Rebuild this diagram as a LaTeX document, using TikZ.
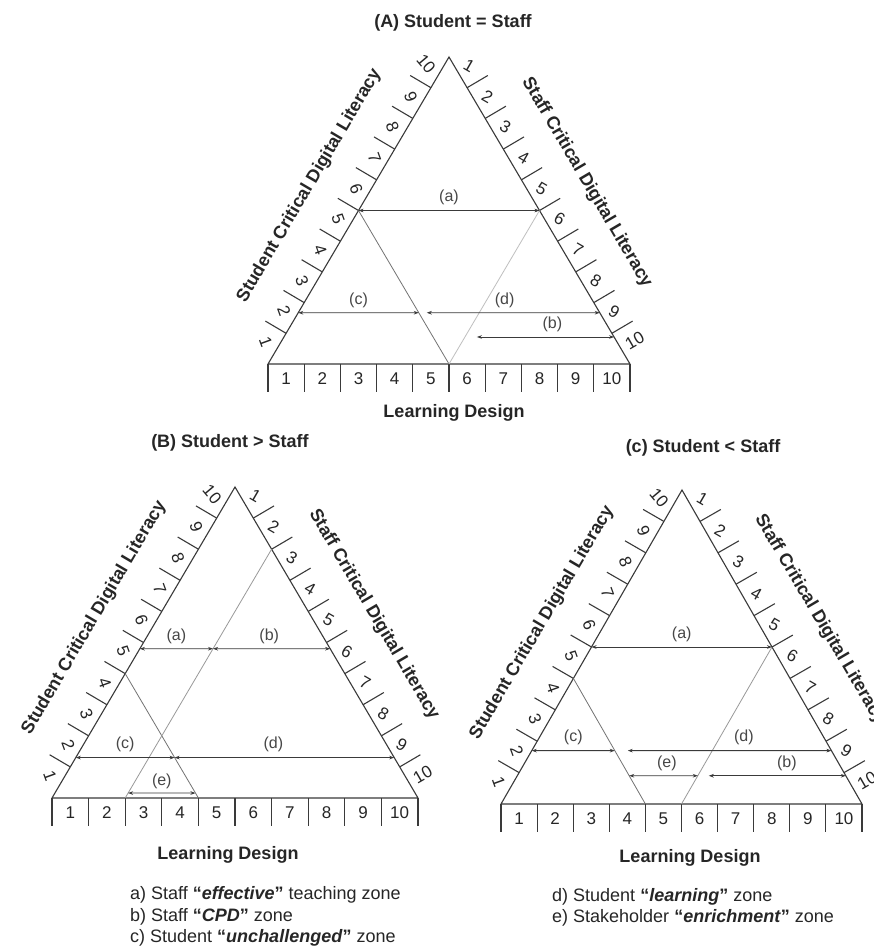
\documentclass[tikz,border=0pt]{standalone}
\usepackage{fontspec}
\setmainfont{Liberation Sans}
\usetikzlibrary{calc,arrows.meta}
\definecolor{ink}{HTML}{262626}
\definecolor{lineink}{HTML}{3A3A3A}
\newcommand{\setfs}[1]{\fontsize{#1}{#1}\selectfont}
\tikzset{
  side/.style={draw=lineink, line width=1.1pt, line join=miter},
  tick/.style={draw=lineink, line width=1.1pt},
  num/.style={inner sep=0pt, text=ink, font=\setfs{17pt}},
  sidelab/.style={inner sep=0pt, text=ink, font=\setfs{18pt}\bfseries},
  ttl/.style={inner sep=0pt, text=ink, font=\setfs{18pt}\bfseries},
  leg/.style={inner sep=0pt, text=ink, font=\setfs{18pt}},
  zarr/.style={draw=lineink, line width=0.8pt,
     {Stealth[length=5pt,width=3.6pt]}-{Stealth[length=5pt,width=3.6pt]}},
  zlab/.style={inner sep=1pt, text=ink!85, font=\setfs{16pt}},
  innerA/.style={draw=black!55, line width=0.8pt},
  innerB/.style={draw=black!25, line width=0.8pt},
}
\newcommand{\drawscaletri}[1]{%
  \draw[side] (#1L) -- (#1T) -- (#1R) -- cycle;
  \foreach \k in {1,...,9}{
    \pgfmathsetmacro{\fk}{\k/10}
    \coordinate (#1lt\k) at ($(#1L)!\fk!(#1T)$);
    \coordinate (#1lo\k) at ($(#1lt\k)!24pt!90:(#1T)$);
    \draw[tick] (#1lt\k) -- (#1lo\k);
    \coordinate (#1rt\k) at ($(#1T)!\fk!(#1R)$);
    \coordinate (#1ro\k) at ($(#1rt\k)!24pt!90:(#1R)$);
    \draw[tick] (#1rt\k) -- (#1ro\k);
  }
  \foreach \k in {0,...,10}{
    \pgfmathsetmacro{\fk}{\k/10}
    \coordinate (#1b\k) at ($(#1L)!\fk!(#1R)$);
    \coordinate (#1bo\k) at ($(#1b\k)+(0,28)$);
    \draw[tick] (#1b\k) -- (#1bo\k);
  }
  \foreach \k in {1,...,10}{
    \pgfmathsetmacro{\fr}{(\k-0.5)/10}
    \pgfmathsetmacro{\rotl}{ifthenelse(\k==10,-50,-70)}
    \pgfmathsetmacro{\rotr}{ifthenelse(\k==10,30,-30)}
    \pgfmathsetmacro{\off}{ifthenelse(\k==10,16,13)}
    \coordinate (#1lc\k) at ($(#1L)!\fr!(#1T)$);
    \node[num, rotate=\rotl] (#1ln\k) at ($(#1lc\k)!\off pt!90:(#1T)$) {\k};
    \coordinate (#1rc\k) at ($(#1T)!\fr!(#1R)$);
    \node[num, rotate=\rotr] (#1rn\k) at ($(#1rc\k)!\off pt!90:(#1R)$) {\k};
    \node[num] (#1bn\k) at ($(#1L)!\fr!(#1R)+(0,15)$) {\k};
  }
  \coordinate (#1lm) at ($(#1L)!0.49!(#1T)$);
  \node[sidelab, rotate=59.5] (#1slab) at ($(#1lm)!55pt!90:(#1T)$) {Student Critical Digital Literacy};
  \coordinate (#1rm) at ($(#1T)!0.5!(#1R)$);
  \node[sidelab, rotate=-59.5] (#1srlab) at ($(#1rm)!55pt!90:(#1R)$) {Staff Critical Digital Literacy};
}
\begin{document}
\begin{tikzpicture}[x=1pt,y=-1pt]
\useasboundingbox (0,0) rectangle (874,948);
\fill[white] (0,0) rectangle (874,948);

% triangle corners
\coordinate (AL) at (268,364); \coordinate (AR) at (630,364); \coordinate (AT) at (449,57);
\coordinate (BL) at (52,798);  \coordinate (BR) at (418,798); \coordinate (BT) at (235,487);
\coordinate (CL) at (501,804); \coordinate (CR) at (862,804); \coordinate (CT) at (682,490);

\drawscaletri{A}
\drawscaletri{B}
\drawscaletri{C}

% ---------- inner zone lines ----------
\draw[innerA] (Alt5) -- (Ab5);
\draw[innerB] (Art5) -- (Ab5);
\draw[innerA] (Blt4) -- (Bb4);
\draw[innerA, draw=black!40] (Brt2) -- (Bb2);
\draw[innerA] (Clt4) -- (Cb4);
\draw[innerA, draw=black!40] (Crt5) -- (Cb5);

% ---------- titles ----------
\node[ttl] (titleA) at (453,23) {(A) Student = Staff};
\node[ttl] (titleB) at (230,443) {(B) Student > Staff};
\node[ttl] (titleC) at (703,448) {(c) Student < Staff};
\node[ttl] (ldA) at (454,413) {Learning Design};
\node[ttl] (ldB) at (228,855) {Learning Design};
\node[ttl] (ldC) at (690,858) {Learning Design};

% ---------- arrows A ----------
\coordinate (Aa1) at (Alt5); \coordinate (Aa2) at (Art5);
\coordinate (Ac1) at ($(AL)!0.167!(AT)$);
\coordinate (Ac2) at ($(Ab5)!0.334!(Alt5)$);
\coordinate (Ad1) at ($(Ac2)+(8,0)$);
\coordinate (Ad2) at ($(AR)!0.167!(AT)$);
\coordinate (Ab1x) at ($(Ab5)!0.176!(Art5)+(12,0)$);
\coordinate (Ab2x) at ($(AR)!0.088!(AT)$);
\draw[zarr] (Aa1) -- (Aa2) node[zlab, midway, above=4pt] (Alab-a) {(a)};
\draw[zarr] (Ac1) -- (Ac2) node[zlab, midway, above=4pt] (Alab-c) {(c)};
\draw[zarr] (Ad1) -- (Ad2) node[zlab, pos=0.45, above=4pt] (Alab-d) {(d)};
\draw[zarr] (Ab1x) -- (Ab2x) node[zlab, pos=0.55, above=4pt] (Alab-b) {(b)};

% ---------- arrows B ----------
\coordinate (Ba1) at ($(BL)!0.48!(BT)$);
\coordinate (Bx1) at ($(Bb2)!0.6!(Brt2)$);
\coordinate (Bb2x) at ($(BR)!0.48!(BT)$);
\coordinate (Bc1) at ($(BL)!0.13!(BT)$);
\coordinate (Bx2) at ($(Bb4)!0.325!(Blt4)$);
\coordinate (Bd2) at ($(BR)!0.13!(BT)$);
\coordinate (Be1) at ($(Bb2)!0.02!(Brt2)$);
\coordinate (Be2) at ($(Bb4)!0.04!(Blt4)$);
\draw[zarr] (Ba1) -- (Bx1) node[zlab, midway, above=4pt] (Blab-a) {(a)};
\draw[zarr] (Bx1) -- (Bb2x) node[zlab, pos=0.48, above=4pt] (Blab-b) {(b)};
\draw[zarr] (Bc1) -- (Bx2) node[zlab, midway, above=4pt] (Blab-c) {(c)};
\draw[zarr] (Bx2) -- (Bd2) node[zlab, pos=0.45, above=4pt] (Blab-d) {(d)};
\draw[zarr] (Be1) -- (Be2) node[zlab, midway, above=3pt] (Blab-e) {(e)};

% ---------- arrows C ----------
\coordinate (Cc1) at ($(CL)!0.17!(CT)$);
\coordinate (Cc2) at ($(Cb4)!0.425!(Clt4)$);
\coordinate (Cd1) at ($(Cc2)+(13,0)$);
\coordinate (Cd2) at ($(CR)!0.17!(CT)$);
\coordinate (Ce1) at ($(Cb4)!0.225!(Clt4)$);
\coordinate (Ce2) at ($(Cb5)!0.18!(Crt5)$);
\coordinate (Cb1x) at ($(Ce2)+(11,0)$);
\coordinate (Cb2x) at ($(CR)!0.09!(CT)$);
\draw[zarr] (Clt5) -- (Crt5) node[zlab, midway, above=4pt] (Clab-a) {(a)};
\draw[zarr] (Cc1) -- (Cc2) node[zlab, midway, above=4pt] (Clab-c) {(c)};
\draw[zarr] (Cd1) -- (Cd2) node[zlab, pos=0.57, above=4pt] (Clab-d) {(d)};
\draw[zarr] (Ce1) -- (Ce2) node[zlab, pos=0.55, above=4pt] (Clab-e) {(e)};
\draw[zarr] (Cb1x) -- (Cb2x) node[zlab, pos=0.57, above=4pt] (Clab-b) {(b)};

% ---------- legend ----------
\node[leg, anchor=west] (leg-a) at (130,895) {a) Staff \textbf{“\textit{effective}”} teaching zone};
\node[leg, anchor=west] (leg-b) at (130,917) {b) Staff \textbf{“\textit{CPD}”} zone};
\node[leg, anchor=west] (leg-c) at (130,938) {c) Student \textbf{“\textit{unchallenged}”} zone};
\node[leg, anchor=west] (leg-d) at (552,897) {d) Student \textbf{“\textit{learning}”} zone};
\node[leg, anchor=west] (leg-e) at (552,918) {e) Stakeholder \textbf{“\textit{enrichment}”} zone};
\end{tikzpicture}
\end{document}
